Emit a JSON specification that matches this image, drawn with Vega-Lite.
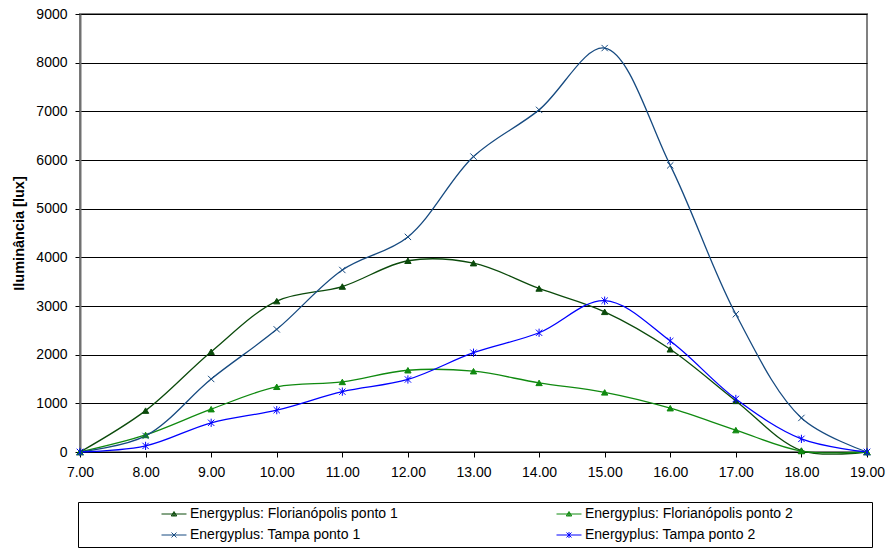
{
  "$schema": "https://vega.github.io/schema/vega-lite/v6.json",
  "autosize": "none",
  "width": 787,
  "height": 438,
  "padding": {"left": 80, "top": 14, "right": 22, "bottom": 96},
  "background": "white",
  "config": {
    "font": "Liberation Sans",
    "view": {"stroke": "#808080", "strokeWidth": 2},
    "axis": {"labelFont": "Liberation Sans", "labelFontSize": 14, "labelColor": "black", "titleFont": "Liberation Sans"}
  },
  "data": {
    "values": [
      {"series": "Energyplus: Florianópolis ponto 1", "hora": 7, "lux": 0},
      {"series": "Energyplus: Florianópolis ponto 1", "hora": 8, "lux": 850},
      {"series": "Energyplus: Florianópolis ponto 1", "hora": 9, "lux": 2060},
      {"series": "Energyplus: Florianópolis ponto 1", "hora": 10, "lux": 3100},
      {"series": "Energyplus: Florianópolis ponto 1", "hora": 11, "lux": 3400},
      {"series": "Energyplus: Florianópolis ponto 1", "hora": 12, "lux": 3930},
      {"series": "Energyplus: Florianópolis ponto 1", "hora": 13, "lux": 3880},
      {"series": "Energyplus: Florianópolis ponto 1", "hora": 14, "lux": 3360},
      {"series": "Energyplus: Florianópolis ponto 1", "hora": 15, "lux": 2880},
      {"series": "Energyplus: Florianópolis ponto 1", "hora": 16, "lux": 2110},
      {"series": "Energyplus: Florianópolis ponto 1", "hora": 17, "lux": 1050},
      {"series": "Energyplus: Florianópolis ponto 1", "hora": 18, "lux": 30},
      {"series": "Energyplus: Florianópolis ponto 1", "hora": 19, "lux": 0},
      {"series": "Energyplus: Florianópolis ponto 2", "hora": 7, "lux": 0},
      {"series": "Energyplus: Florianópolis ponto 2", "hora": 8, "lux": 350},
      {"series": "Energyplus: Florianópolis ponto 2", "hora": 9, "lux": 880},
      {"series": "Energyplus: Florianópolis ponto 2", "hora": 10, "lux": 1340},
      {"series": "Energyplus: Florianópolis ponto 2", "hora": 11, "lux": 1440},
      {"series": "Energyplus: Florianópolis ponto 2", "hora": 12, "lux": 1680},
      {"series": "Energyplus: Florianópolis ponto 2", "hora": 13, "lux": 1660},
      {"series": "Energyplus: Florianópolis ponto 2", "hora": 14, "lux": 1420},
      {"series": "Energyplus: Florianópolis ponto 2", "hora": 15, "lux": 1225},
      {"series": "Energyplus: Florianópolis ponto 2", "hora": 16, "lux": 900},
      {"series": "Energyplus: Florianópolis ponto 2", "hora": 17, "lux": 450},
      {"series": "Energyplus: Florianópolis ponto 2", "hora": 18, "lux": 20},
      {"series": "Energyplus: Florianópolis ponto 2", "hora": 19, "lux": 0},
      {"series": "Energyplus: Tampa ponto 1", "hora": 7, "lux": 0},
      {"series": "Energyplus: Tampa ponto 1", "hora": 8, "lux": 330},
      {"series": "Energyplus: Tampa ponto 1", "hora": 9, "lux": 1500},
      {"series": "Energyplus: Tampa ponto 1", "hora": 10, "lux": 2520},
      {"series": "Energyplus: Tampa ponto 1", "hora": 11, "lux": 3740},
      {"series": "Energyplus: Tampa ponto 1", "hora": 12, "lux": 4420},
      {"series": "Energyplus: Tampa ponto 1", "hora": 13, "lux": 6070},
      {"series": "Energyplus: Tampa ponto 1", "hora": 14, "lux": 7030},
      {"series": "Energyplus: Tampa ponto 1", "hora": 15, "lux": 8300},
      {"series": "Energyplus: Tampa ponto 1", "hora": 16, "lux": 5890},
      {"series": "Energyplus: Tampa ponto 1", "hora": 17, "lux": 2830},
      {"series": "Energyplus: Tampa ponto 1", "hora": 18, "lux": 700},
      {"series": "Energyplus: Tampa ponto 1", "hora": 19, "lux": 0},
      {"series": "Energyplus: Tampa ponto 2", "hora": 7, "lux": 0},
      {"series": "Energyplus: Tampa ponto 2", "hora": 8, "lux": 125},
      {"series": "Energyplus: Tampa ponto 2", "hora": 9, "lux": 600},
      {"series": "Energyplus: Tampa ponto 2", "hora": 10, "lux": 860},
      {"series": "Energyplus: Tampa ponto 2", "hora": 11, "lux": 1240},
      {"series": "Energyplus: Tampa ponto 2", "hora": 12, "lux": 1490},
      {"series": "Energyplus: Tampa ponto 2", "hora": 13, "lux": 2040},
      {"series": "Energyplus: Tampa ponto 2", "hora": 14, "lux": 2450},
      {"series": "Energyplus: Tampa ponto 2", "hora": 15, "lux": 3110},
      {"series": "Energyplus: Tampa ponto 2", "hora": 16, "lux": 2280},
      {"series": "Energyplus: Tampa ponto 2", "hora": 17, "lux": 1090},
      {"series": "Energyplus: Tampa ponto 2", "hora": 18, "lux": 270},
      {"series": "Energyplus: Tampa ponto 2", "hora": 19, "lux": 0}
    ]
  },
  "encoding": {
    "x": {
      "field": "hora", "type": "quantitative",
      "scale": {"domain": [7, 19], "nice": false, "zero": false},
      "axis": {
        "title": null, "grid": false, "values": [7,8,9,10,11,12,13,14,15,16,17,18,19],
        "format": ".2f", "domainColor": "black", "domainWidth": 1,
        "tickColor": "black", "tickSize": 5, "labelPadding": 8, "labelFlush": false
      }
    },
    "y": {
      "field": "lux", "type": "quantitative",
      "scale": {"domain": [0, 9000], "nice": false},
      "axis": {
        "title": "Iluminância [lux]", "titleFontSize": 14.5, "titleFontWeight": "bold", "titleColor": "black",
        "titlePadding": 9, "format": "d",
        "values": [0,1000,2000,3000,4000,5000,6000,7000,8000,9000],
        "grid": true, "gridColor": "black", "gridWidth": 1, "gridOpacity": 1,
        "domainColor": "#707070", "domainWidth": 2,
        "tickColor": "black", "tickSize": 5, "labelPadding": 8
      }
    }
  },
  "layer": [
    {
      "mark": {"type": "line", "interpolate": "catmull-rom", "strokeWidth": 1.3},
      "encoding": {
        "stroke": {
          "field": "series", "type": "nominal",
          "scale": {
            "domain": ["Energyplus: Tampa ponto 2", "Energyplus: Tampa ponto 1", "Energyplus: Florianópolis ponto 2", "Energyplus: Florianópolis ponto 1"],
            "range": ["#0000ff", "#164a80", "#108a10", "#0b4a0b"]
          },
          "legend": null
        }
      }
    },
    {
      "mark": {"type": "point", "filled": true, "size": 40, "strokeWidth": 1, "opacity": 1},
      "encoding": {
        "stroke": {
          "field": "series", "type": "nominal",
          "scale": {
            "domain": ["Energyplus: Tampa ponto 2", "Energyplus: Tampa ponto 1", "Energyplus: Florianópolis ponto 2", "Energyplus: Florianópolis ponto 1"],
            "range": ["#0000ff", "#164a80", "#108a10", "#0b4a0b"]
          },
          "legend": null
        },
        "fill": {
          "field": "series", "type": "nominal",
          "scale": {
            "domain": ["Energyplus: Tampa ponto 1", "Energyplus: Tampa ponto 2", "Energyplus: Florianópolis ponto 1", "Energyplus: Florianópolis ponto 2"],
            "range": ["#164a80", "#0000ff", "#0b4a0b", "#108a10"]
          },
          "legend": null
        },
        "shape": {
          "condition": [
            {"test": "indexof(datum.series, 'Flori') >= 0", "value": "triangle-up"},
            {"test": "datum.series === 'Energyplus: Tampa ponto 1'", "value": "M-1,-1L1,1M-1,1L1,-1"}
          ],
          "value": "M-1,-1L1,1M-1,1L1,-1M0,-1.3L0,1.3"
        }
      }
    },
    {
      "transform": [{"filter": "datum.hora > 100"}],
      "mark": {"type": "point", "filled": false, "strokeWidth": 1, "opacity": 1},
      "encoding": {
        "color": {
          "field": "series", "type": "nominal",
          "scale": {
            "domain": ["Energyplus: Florianópolis ponto 1", "Energyplus: Florianópolis ponto 2", "Energyplus: Tampa ponto 1", "Energyplus: Tampa ponto 2"],
            "range": ["#0b4a0b", "#108a10", "#164a80", "#0000ff"]
          },
          "legend": {
            "title": " ", "titleOrient": "right", "titlePadding": 74,
            "orient": "none", "legendX": -2, "legendY": 488,
            "columns": 2, "direction": "horizontal",
            "strokeColor": "black", "fillColor": "white", "padding": 5,
            "symbolSize": 49, "symbolOffset": 84, "labelOffset": 9, "symbolStrokeWidth": 1,
            "symbolOpacity": 1,
            "columnPadding": 80, "rowPadding": 7, "labelLimit": 400,
            "labelFont": "Liberation Sans", "labelFontSize": 14, "labelColor": "black"
          }
        },
        "shape": {
          "field": "series", "type": "nominal",
          "scale": {
            "domain": ["Energyplus: Florianópolis ponto 1", "Energyplus: Florianópolis ponto 2", "Energyplus: Tampa ponto 1", "Energyplus: Tampa ponto 2"],
            "range": [
              "M-3.57,0L3.57,0M0,-0.71L0.79,0.57L-0.79,0.57ZM0,-0.35L0.4,0.4L-0.4,0.4Z",
              "M-3.57,0L3.57,0M0,-0.71L0.79,0.57L-0.79,0.57ZM0,-0.35L0.4,0.4L-0.4,0.4Z",
              "M-3.57,0L3.57,0M-0.71,-0.71L0.71,0.71M-0.71,0.71L0.71,-0.71",
              "M-3.57,0L3.57,0M-0.71,-0.71L0.71,0.71M-0.71,0.71L0.71,-0.71M0,-0.86L0,0.86"
            ]
          }
        }
      }
    }
  ]
}
